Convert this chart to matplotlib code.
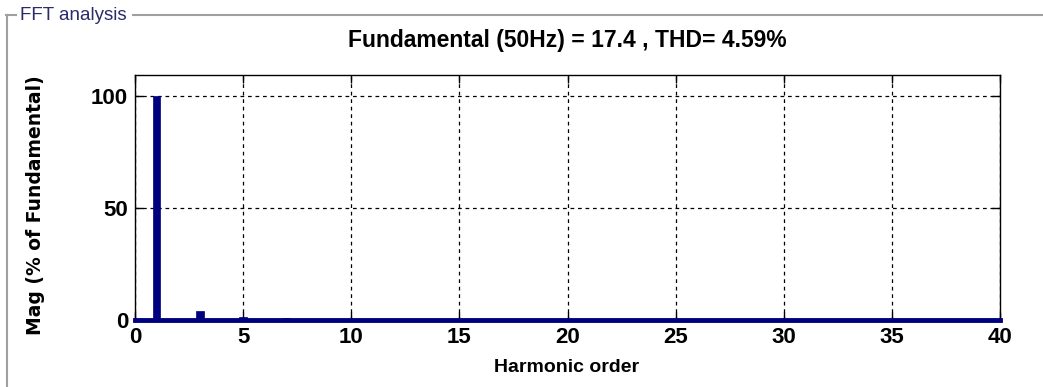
import matplotlib
matplotlib.use("Agg")
import matplotlib.pyplot as plt
from matplotlib.lines import Line2D

# Data
harmonic_order = list(range(0, 41))
magnitude = [0.0, 100.0, 0.2, 4.0, 0.1, 1.2, 0.1, 0.8, 0.05, 0.5, 0.05, 0.4, 0.05, 0.3,
             0.03, 0.3, 0.03, 0.2, 0.03, 0.2, 0.02, 0.15, 0.02, 0.15, 0.02, 0.1, 0.02,
             0.1, 0.02, 0.1, 0.02, 0.1, 0.02, 0.1, 0.02, 0.1, 0.02, 0.1, 0.02, 0.1, 0.02]
x_ticks = [0, 5, 10, 15, 20, 25, 30, 35, 40]
y_ticks = [0, 50, 100]
title_text = "Fundamental (50Hz) = 17.4 , THD= 4.59%"
panel_label = "FFT analysis"

W, H = 1043, 387
fig = plt.figure(figsize=(W / 100, H / 100), dpi=100)
fig.patch.set_facecolor("white")

font = ["Liberation Sans", "DejaVu Sans"]
navy = "#00007f"

ax = fig.add_axes([135 / W, 1 - 320 / H, (1000 - 135) / W, (320 - 75) / H])
ax.bar(harmonic_order, magnitude, width=0.35, color=navy, edgecolor=navy, linewidth=0.5, zorder=3)
ax.axhline(0, color=navy, lw=3.5, zorder=4, clip_on=False)
ax.set_xlim(0, 40)
ax.set_ylim(0, 109.4)
ax.set_xticks(x_ticks)
ax.set_yticks(y_ticks)
ax.grid(True, color="black", linestyle=(0, (3, 3)), linewidth=0.9)
ax.set_axisbelow(True)
ax.tick_params(direction="in", length=6, width=1, top=True, right=True, pad=5)
for lab in ax.get_xticklabels() + ax.get_yticklabels():
    lab.set_fontfamily(font)
    lab.set_fontweight("bold")
    lab.set_fontsize(16)
for s in ax.spines.values():
    s.set_linewidth(1)
    s.set_color("black")

fig.text(567 / W, 1 - 40 / H, title_text, fontfamily=font, fontweight="bold", fontsize=16.5,
         ha="center", va="center")
fig.text(567 / W, 1 - 368 / H, "Harmonic order", fontfamily=font, fontweight="bold", fontsize=14,
         ha="center", va="center")
fig.text(36 / W, 1 - 205 / H, "Mag (% of Fundamental)", fontfamily=["DejaVu Sans"], fontweight="bold",
         fontsize=13.5, rotation=90, ha="center", va="center")

# Group-box frame
gray = "#a0a0a0"
fy = 1 - 15 / H
fig.add_artist(Line2D([6 / W, 16 / W], [fy, fy], color=gray, lw=1.5, transform=fig.transFigure))
fig.add_artist(Line2D([133 / W, 1.0], [fy, fy], color=gray, lw=1.5, transform=fig.transFigure))
fig.add_artist(Line2D([7 / W, 7 / W], [fy, 0], color=gray, lw=1.5, transform=fig.transFigure))
fig.text(20 / W, fy, panel_label, fontfamily=["Liberation Sans Narrow", "Liberation Sans", "DejaVu Sans"],
         fontsize=13.5, color="#2b2b6b", va="center", ha="left")

fig.savefig("out.png", dpi=100, facecolor="white")
